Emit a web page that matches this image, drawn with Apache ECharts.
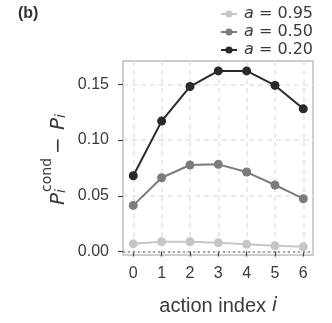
<!DOCTYPE html>
<html><head><meta charset="utf-8">
<script src="https://cdn.jsdelivr.net/npm/echarts@6/dist/echarts.min.js"></script>
<style>html,body{margin:0;padding:0;background:#fff}#c{width:332px;height:323px}</style>
</head><body><div id="c"></div>
<script>
const actionIndex = [0, 1, 2, 3, 4, 5, 6];
const seriesNames = ['0.95', '0.50', '0.20'];
const valsA095 = [0.0069, 0.0088, 0.0088, 0.0079, 0.0065, 0.0052, 0.0043];
const valsA050 = [0.0414, 0.0662, 0.0776, 0.0782, 0.0713, 0.0597, 0.0474];
const valsA020 = [0.068, 0.117, 0.148, 0.162, 0.162, 0.149, 0.128];
const yTickLabels = ['0.00', '0.05', '0.10', '0.15'];
const colors = ['#c6c6c9', '#7c7c7c', '#2a2a2a'];
const allVals = [valsA095, valsA050, valsA020];

const FONT = 'Liberation Sans';
const TXT = '#3a3a3a';
const yMin = -0.0031, yMax = 0.1709;
const gridLine = { show: true, lineStyle: { color: '#e3e3e3', width: 1.5, type: [5, 4] } };

const chart = echarts.init(document.getElementById('c'), null, { renderer: 'canvas' });
const series = allVals.map((vals, k) => ({
  name: seriesNames[k],
  type: 'line',
  xAxisIndex: 1, yAxisIndex: 1,
  data: actionIndex.map((x, i) => [x, vals[i]]),
  symbol: 'circle', symbolSize: 9,
  color: colors[k],
  lineStyle: { width: 2, color: colors[k] },
  itemStyle: { color: colors[k] },
  clip: false, z: 3 + k,
  animation: false
}));
series.push({
  type: 'line', xAxisIndex: 0, yAxisIndex: 0, data: [], silent: true,
  markLine: {
    symbol: 'none', silent: true, animation: false, label: { show: false },
    lineStyle: { color: '#8a8a8a', type: [2, 3], width: 1.5 },
    data: [{ yAxis: 0 }]
  }
});

chart.setOption({
  animation: false,
  backgroundColor: '#fff',
  textStyle: { fontFamily: FONT },
  grid: [
    { left: 123, right: 19, top: 61, bottom: 68, show: true, borderColor: '#bdbdbd', borderWidth: 1.5, backgroundColor: 'transparent' },
    { left: 133.3, right: 28.7, top: 61, bottom: 68 },
    { left: 123, right: 19, top: 84.3, bottom: 71.5 }
  ],
  xAxis: [
    { gridIndex: 0, type: 'value', min: -0.36, max: 6.34, show: false },
    { gridIndex: 1, type: 'value', min: 0, max: 6, interval: 1,
      axisLine: { show: false },
      axisTick: { show: true, inside: false, length: 5, lineStyle: { color: '#444', width: 1.2 } },
      axisLabel: { margin: 11, fontSize: 16, color: TXT, fontFamily: FONT },
      splitLine: gridLine,
      name: '{n|action index }{i|i}', nameLocation: 'middle', nameGap: 41,
      nameTextStyle: { rich: {
        n: { fontSize: 20, fontFamily: FONT, color: TXT },
        i: { fontSize: 20, fontFamily: 'DejaVu Sans', fontStyle: 'italic', color: TXT }
      } }
    },
    { gridIndex: 2, type: 'value', min: 0, max: 1, show: false }
  ],
  yAxis: [
    { gridIndex: 0, type: 'value', min: yMin, max: yMax, show: false },
    { gridIndex: 1, type: 'value', min: yMin, max: yMax, show: false },
    { gridIndex: 2, type: 'value', min: 0, max: 0.15, interval: 0.05,
      axisLine: { show: false },
      axisTick: { show: true, inside: false, length: 5, lineStyle: { color: '#444', width: 1.2 } },
      axisLabel: { margin: 14, fontSize: 16, color: TXT, fontFamily: FONT,
        formatter: (v) => yTickLabels[Math.round(v / 0.05)] },
      splitLine: gridLine
    }
  ],
  legend: {
    orient: 'vertical', right: 14, top: 1, itemWidth: 16, itemHeight: 9, itemGap: 2,
    data: seriesNames,
    formatter: (n) => '{i|a} = ' + n,
    textStyle: { fontSize: 16, fontFamily: 'DejaVu Sans', color: TXT, padding: [0, 0, 0, 2],
      rich: { i: { fontSize: 16, fontFamily: 'DejaVu Sans', fontStyle: 'italic', color: TXT } } }
  },
  graphic: [
    { type: 'text', left: 18, top: 6, style: { text: '(b)', font: 'bold 16px "Liberation Sans"', fill: '#333' } },
    { type: 'group', x: 49, y: 158, rotation: Math.PI / 2, children: [
      { type: 'text', x: -47, y: 0, style: { text: 'P', font: 'italic 20px "DejaVu Sans"', fill: TXT, textVerticalAlign: 'alphabetic' } },
      { type: 'text', x: -34, y: -9, style: { text: 'cond', font: '14px "DejaVu Sans"', fill: TXT, textVerticalAlign: 'alphabetic' } },
      { type: 'text', x: -35, y: 5, style: { text: 'i', font: 'italic 14px "DejaVu Sans"', fill: TXT, textVerticalAlign: 'alphabetic' } },
      { type: 'text', x: 4, y: 0, style: { text: '\u2212', font: '20px "DejaVu Sans"', fill: TXT, textVerticalAlign: 'alphabetic' } },
      { type: 'text', x: 28, y: 0, style: { text: 'P', font: 'italic 20px "DejaVu Sans"', fill: TXT, textVerticalAlign: 'alphabetic' } },
      { type: 'text', x: 40, y: 5, style: { text: 'i', font: 'italic 14px "DejaVu Sans"', fill: TXT, textVerticalAlign: 'alphabetic' } }
    ] }
  ],
  series
});
</script></body></html>
